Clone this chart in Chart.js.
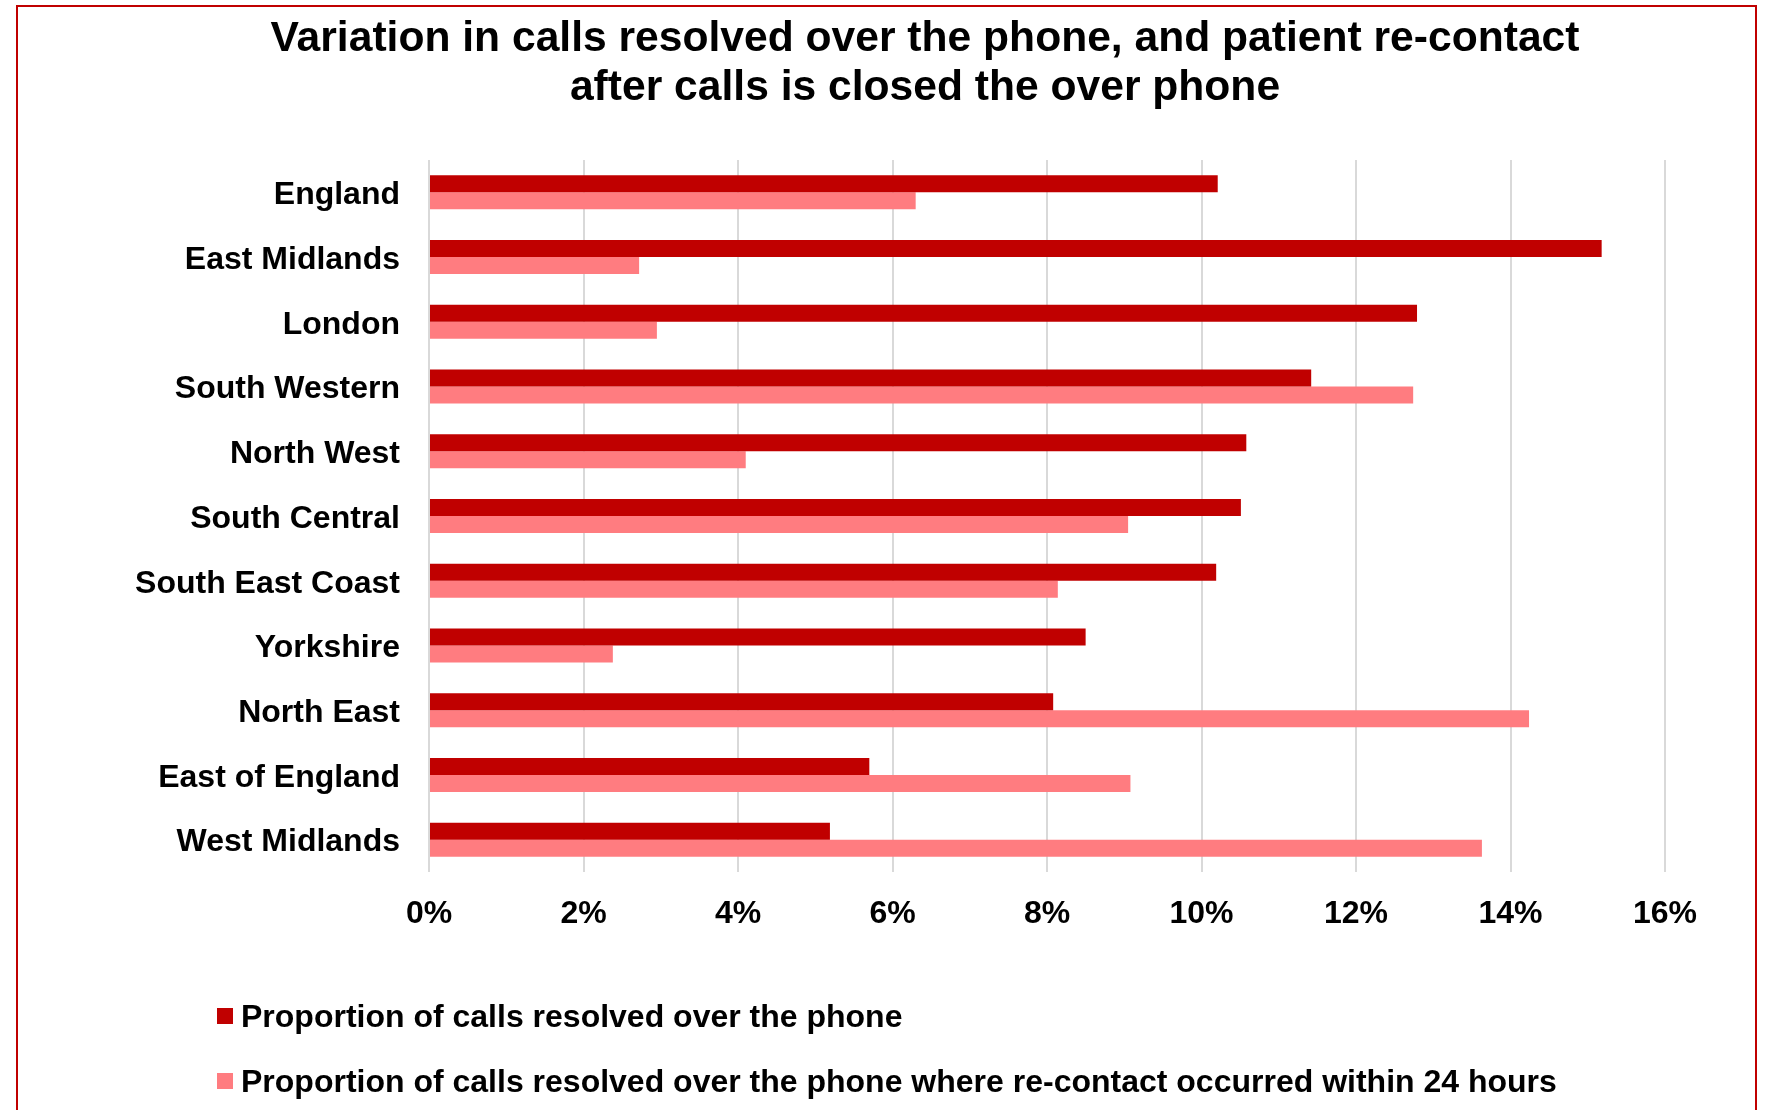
<!DOCTYPE html>
<html>
<head>
<meta charset="utf-8">
<title>Calls resolved over the phone</title>
<script src="https://cdn.jsdelivr.net/npm/chart.js@4.4.1/dist/chart.umd.min.js"></script>
<style>
  html, body { margin: 0; padding: 0; background: #ffffff; }
  #myChart { display: block; }
</style>
</head>
<body>
<canvas id="myChart" width="1765" height="1110"></canvas>
<script>
// ambulance service regions, top to bottom
var regions = ['England', 'East Midlands', 'London', 'South Western', 'North West',
  'South Central', 'South East Coast', 'Yorkshire', 'North East', 'East of England', 'West Midlands'];

// percentages per region
var resolvedPct = [10.21, 15.18, 12.79, 11.42, 10.58, 10.51, 10.19, 8.50, 8.08, 5.70, 5.19];
var recontactPct = [6.30, 2.72, 2.95, 12.74, 4.10, 9.05, 8.14, 2.38, 14.24, 9.08, 13.63];

var seriesNames = [
  'Proportion of calls resolved over the phone',
  'Proportion of calls resolved over the phone where re-contact occurred within 24 hours'
];
var seriesColors = ['#C00000', '#FF7C80'];

var titleLines = [
  'Variation in calls resolved over the phone, and patient re-contact',
  'after calls is closed the over phone'
];

// x axis ticks 0% .. 16%
var axisMax = 16;
var axisStep = 2;

var FONT = "'Liberation Sans', Arial, sans-serif";
Chart.defaults.font.family = FONT;
Chart.defaults.font.weight = 'bold';
Chart.defaults.color = '#000000';

// white background and the red frame round the whole chart
var framePlugin = {
  id: 'frame',
  beforeDraw: function (chart) {
    var ctx = chart.ctx;
    ctx.save();
    ctx.fillStyle = '#ffffff';
    ctx.fillRect(0, 0, chart.width, chart.height);
    ctx.strokeStyle = '#C00000';
    ctx.lineWidth = 2;
    ctx.strokeRect(17, 6, 1739, 1200);
    ctx.restore();
  }
};

// legend as two left aligned rows under the axis
var legendRows = {
  id: 'legendRows',
  afterDraw: function (chart) {
    var ctx = chart.ctx;
    ctx.save();
    ctx.font = 'bold 32px ' + FONT;
    ctx.textAlign = 'left';
    ctx.textBaseline = 'alphabetic';
    chart.data.datasets.forEach(function (ds, i) {
      var y = 1027 + i * 65;
      ctx.fillStyle = ds.backgroundColor;
      ctx.fillRect(217, y - 19, 16, 16);
      ctx.fillStyle = '#000000';
      ctx.fillText(ds.label, 241, y);
    });
    ctx.restore();
  }
};

function displayGraph() {
  var grapharea = document.getElementById('myChart');

  var data = {
    labels: regions,
    datasets: [{
      label: seriesNames[0],
      data: resolvedPct,
      backgroundColor: seriesColors[0],
      categoryPercentage: 0.525,
      barPercentage: 1.0
    }, {
      label: seriesNames[1],
      data: recontactPct,
      backgroundColor: seriesColors[1],
      categoryPercentage: 0.525,
      barPercentage: 1.0
    }]
  };

  var config = {
    type: 'bar',
    data: data,
    plugins: [framePlugin, legendRows],
    options: {
      indexAxis: 'y',
      responsive: false,
      animation: false,
      layout: { padding: { left: 85, right: 0, top: 0, bottom: 0 } },
      plugins: {
        legend: { display: false },
        tooltip: { enabled: false },
        title: {
          display: true,
          text: titleLines,
          color: '#000000',
          font: { size: 42.6, weight: 'bold', lineHeight: 49 / 42.6 },
          padding: { top: 15, bottom: 47 }
        }
      },
      scales: {
        x: {
          min: 0,
          max: axisMax,
          ticks: {
            stepSize: axisStep,
            padding: 23,
            font: { size: 32 },
            callback: function (v) { return v + '%'; }
          },
          grid: { color: '#D9D9D9', lineWidth: 2, drawTicks: false },
          border: { display: false },
          afterFit: function (scale) { scale.height = 238; }
        },
        y: {
          ticks: { padding: 29, labelOffset: 3, autoSkip: false, font: { size: 32 } },
          grid: { display: false, drawTicks: false },
          border: { display: false },
          afterFit: function (scale) { scale.width = 344; }
        },
        // empty gutter on the right of the plot
        gutter: {
          type: 'category',
          position: 'right',
          ticks: { display: false },
          grid: { display: false, drawTicks: false },
          border: { display: false },
          afterFit: function (scale) { scale.width = 100; }
        }
      }
    }
  };

  var myChart = new Chart(grapharea, config);
}
displayGraph();
</script>
</body>
</html>
